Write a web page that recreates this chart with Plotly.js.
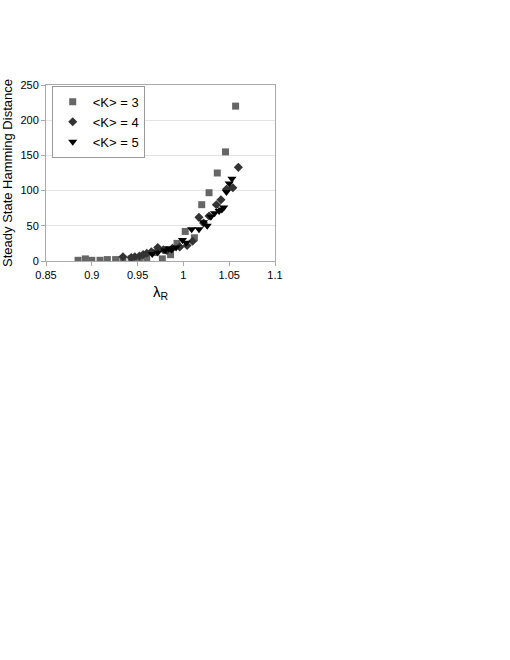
<!DOCTYPE html>
<html>
<head>
<meta charset="utf-8">
<script src="https://cdn.plot.ly/plotly-3.0.1.min.js"></script>
<style>
  body { margin: 0; background: #fff; }
  #chart { width: 510px; height: 660px; }
</style>
</head>
<body>
<div id="chart"></div>
<script>
// <K> = 3
const k3_x = [0.885, 0.893, 0.900, 0.909, 0.917, 0.926, 0.934, 0.943, 0.952, 0.960, 0.968, 0.977, 0.986, 0.993, 1.002, 1.012, 1.020, 1.028, 1.037, 1.046, 1.057];
const k3_y = [1, 3, 1, 1, 2, 2, 2, 3, 4, 5, 12, 3, 9, 25, 42, 33, 80, 97, 125, 155, 220];

// <K> = 4
const k4_x = [0.934, 0.943, 0.947, 0.952, 0.956, 0.960, 0.965, 0.972, 0.978, 0.982, 0.988, 0.996, 1.004, 1.010, 1.017, 1.022, 1.028, 1.036, 1.041, 1.047, 1.054, 1.060];
const k4_y = [6, 5, 6, 7, 9, 11, 13, 19, 16, 15, 18, 20, 22, 28, 62, 54, 64, 80, 87, 102, 104, 133];

// <K> = 5
const k5_x = [0.966, 0.972, 0.980, 0.984, 0.987, 0.992, 0.999, 1.003, 1.009, 1.017, 1.022, 1.026, 1.030, 1.034, 1.039, 1.042, 1.044, 1.047, 1.050, 1.053];
const k5_y = [10, 12, 15, 18, 16, 19, 30, 26, 45, 45, 55, 50, 63, 68, 71, 73, 76, 98, 110, 117];

const names = ['&lt;K&gt; = 3', '&lt;K&gt; = 4', '&lt;K&gt; = 5'];

let data = [
    {
        x: k3_x, y: k3_y, type: 'scatter', mode: 'markers', name: names[0],
        marker: {symbol: 'square', size: 7, color: '#666666'}
    },
    {
        x: k4_x, y: k4_y, type: 'scatter', mode: 'markers', name: names[1],
        marker: {symbol: 'diamond', size: 7, color: '#333333'}
    },
    {
        x: k5_x, y: k5_y, type: 'scatter', mode: 'markers', name: names[2],
        marker: {symbol: 'triangle-down', size: 8, color: '#000000'}
    }
];

let layout = {
    width: 510,
    height: 660,
    paper_bgcolor: '#ffffff',
    plot_bgcolor: '#ffffff',
    font: {family: 'Liberation Sans, Arial, sans-serif', size: 11, color: '#000'},
    margin: {l: 46, r: 235, t: 85, b: 399},
    showlegend: true,
    legend: {
        x: 0.025, y: 0.995, xanchor: 'left', yanchor: 'top',
        bgcolor: '#ffffff', bordercolor: '#999999', borderwidth: 1,
        font: {size: 13},
        itemwidth: 30
    },
    xaxis: {
        range: [0.85, 1.1],
        dtick: 0.05,
        tick0: 0.85,
        showgrid: false,
        zeroline: false,
        showline: true,
        linecolor: '#aaaaaa',
        mirror: true,
        ticks: 'outside',
        ticklen: 4,
        tickcolor: '#aaaaaa',
        tickfont: {size: 11},
        title: {text: 'λ<sub>R</sub>', font: {size: 15}, standoff: 6}
    },
    yaxis: {
        range: [0, 250],
        dtick: 50,
        showgrid: true,
        gridcolor: '#e4e4e4',
        zeroline: false,
        showline: true,
        linecolor: '#aaaaaa',
        mirror: true,
        ticks: 'outside',
        ticklen: 4,
        tickcolor: '#aaaaaa',
        tickfont: {size: 11},
        title: {text: 'Steady State Hamming Distance', font: {size: 13}, standoff: 4}
    }
};

Plotly.newPlot('chart', data, layout, {displayModeBar: false, staticPlot: true});
</script>
</body>
</html>
